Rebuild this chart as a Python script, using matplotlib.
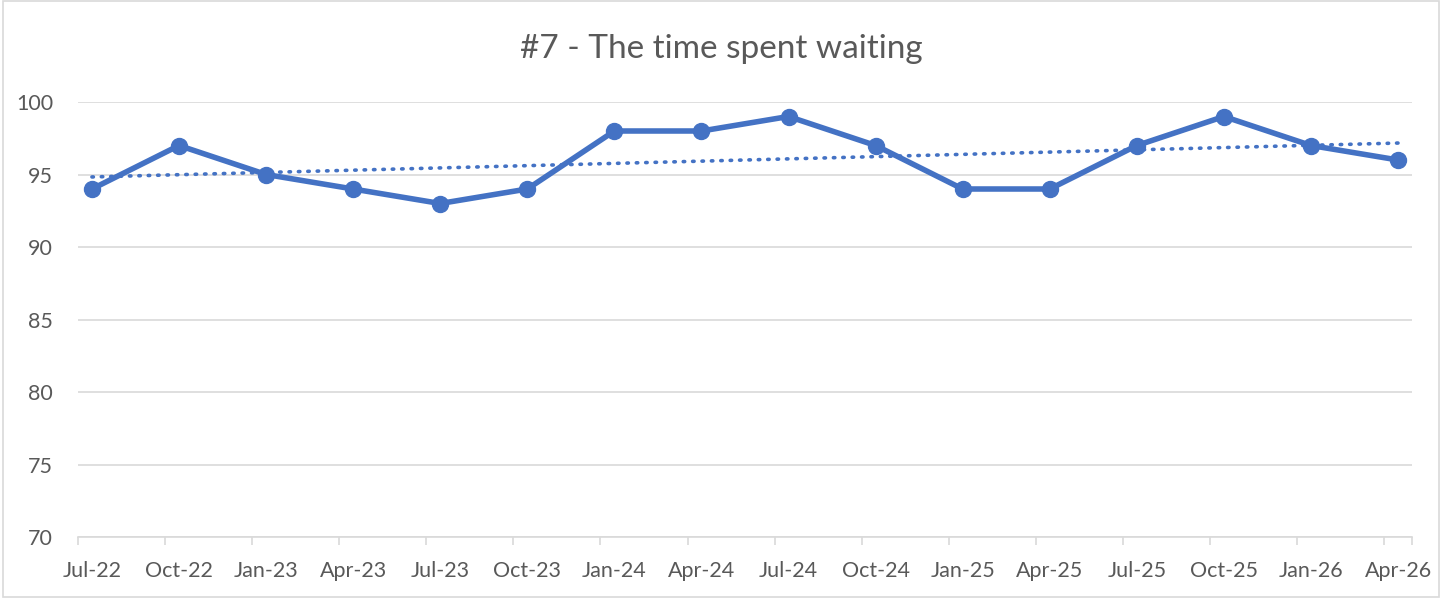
import numpy as np
import matplotlib.pyplot as plt
from matplotlib.patches import Rectangle

plt.rcParams['font.family'] = ['Lato', 'DejaVu Sans']

quarters = ['Jul-22', 'Oct-22', 'Jan-23', 'Apr-23', 'Jul-23', 'Oct-23', 'Jan-24', 'Apr-24',
            'Jul-24', 'Oct-24', 'Jan-25', 'Apr-25', 'Jul-25', 'Oct-25', 'Jan-26', 'Apr-26']
scores = [94, 97, 95, 94, 93, 94, 98, 98, 99, 97, 94, 94, 97, 99, 97, 96]
title = '#7 - The time spent waiting'

blue = '#4472C4'
grey_text = '#595959'
grid_col = '#D9D9D9'

fig = plt.figure(figsize=(14.42, 5.98), dpi=100)
ax = fig.add_axes([78 / 1442, 1 - 537 / 598, (1412 - 78) / 1442, (537 - 102) / 598])

x = np.arange(len(scores))

# linear trendline
coef = np.polyfit(x, scores, 1)
ax.plot(x, np.polyval(coef, x), color=blue, lw=2.6, linestyle=(0, (0.4, 2.2)),
        dash_capstyle='round', zorder=3)

ax.plot(x, scores, color=blue, lw=4.0, marker='o', markersize=11.5, zorder=4)

ax.set_ylim(70, 100)
ax.set_yticks(range(70, 101, 5))
ax.set_xlim(-0.16, len(scores) - 1 + 0.16)
ax.set_xticks(x)
ax.set_xticklabels(quarters)
ax.set_xticks(np.append(x - 0.16, len(scores) - 1 + 0.16), minor=True)

ax.grid(axis='y', color=grid_col, lw=1.2)
ax.set_axisbelow(True)
for s in ['top', 'right', 'left']:
    ax.spines[s].set_visible(False)
ax.spines['bottom'].set_color(grid_col)
ax.spines['bottom'].set_linewidth(1.2)

ax.tick_params(axis='y', length=0, labelsize=15.5, labelcolor=grey_text, pad=18)
ax.tick_params(axis='x', which='major', length=0, labelsize=15.5, labelcolor=grey_text, pad=17)
ax.tick_params(axis='x', which='minor', length=6, width=1.2, color=grid_col)

fig.text(0.5, 1 - 49 / 598, title, ha='center', va='center', fontsize=24, color=grey_text)

fig.patches.append(Rectangle((0.002, 0.002), 0.996, 0.996, transform=fig.transFigure,
                             fill=False, edgecolor=grid_col, lw=1.2))

fig.savefig('out.png', dpi=100)
